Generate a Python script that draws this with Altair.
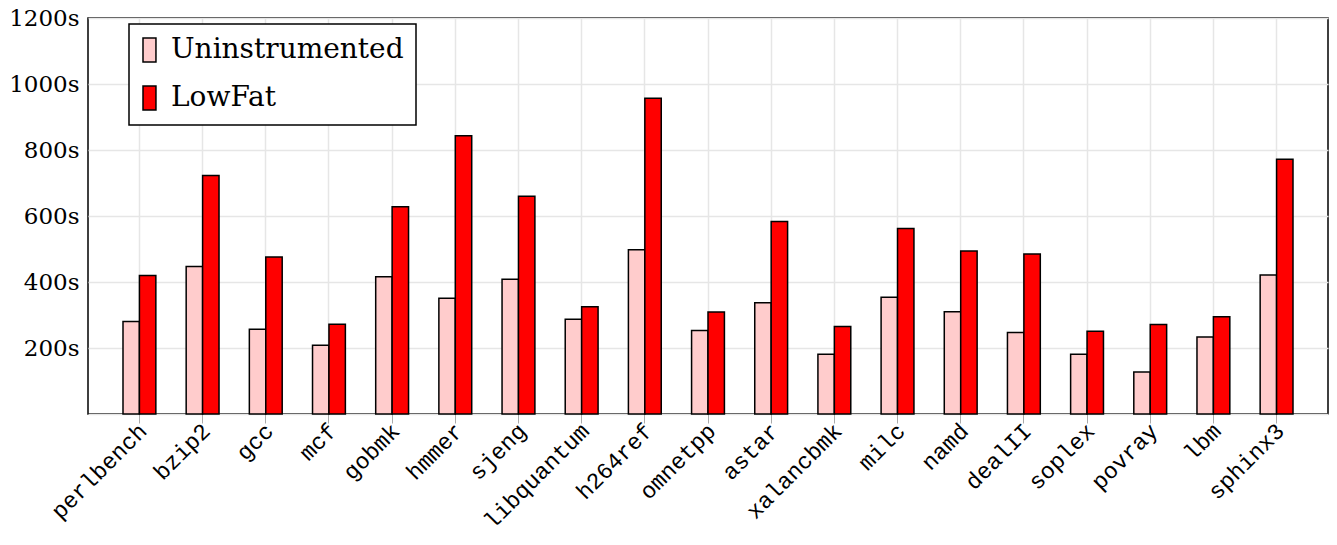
import altair as alt
import pandas as pd

benchmarks = ["perlbench", "bzip2", "gcc", "mcf", "gobmk", "hmmer", "sjeng",
              "libquantum", "h264ref", "omnetpp", "astar", "xalancbmk", "milc",
              "namd", "dealII", "soplex", "povray", "lbm", "sphinx3"]
uninstrumented = [280, 447, 257, 208, 416, 351, 408, 287, 498, 253, 337, 181,
                  354, 310, 247, 181, 127, 233, 421]
lowfat = [420, 723, 476, 272, 628, 843, 660, 325, 957, 309, 583, 265,
          562, 494, 485, 251, 271, 295, 772]
series_names = ["Uninstrumented", "LowFat"]
series_colors = ["#ffcccc", "#ff0000"]
y_ticks = [0, 200, 400, 600, 800, 1000, 1200]

rows = []
for b, u, l in zip(benchmarks, uninstrumented, lowfat):
    rows.append({"bench": b, "series": "Uninstrumented", "time": u})
    rows.append({"bench": b, "series": "LowFat", "time": l})
df = pd.DataFrame(rows)

bars = alt.Chart(df).mark_bar(stroke="black", strokeWidth=1.5).encode(
    x=alt.X("bench:N", sort=benchmarks, title=None,
            scale=alt.Scale(paddingInner=0.48, paddingOuter=0.554),
            axis=alt.Axis(labelAngle=-45, labelAlign="right", labelBaseline="middle",
                          labelFont="Liberation Mono", labelFontSize=23, labelColor="black",
                          labelPadding=4, labelOffset=4, bandPosition=0.5, grid=True,
                          gridColor="#e6e6e6", gridWidth=1.5,
                          tickColor="#aaaaaa", tickSize=9, tickWidth=1,
                          domain=False)),
    xOffset=alt.XOffset("series:N", sort=series_names,
                        scale=alt.Scale(paddingInner=0, paddingOuter=0)),
    y=alt.Y("time:Q", title=None,
            scale=alt.Scale(domain=[0, 1200], nice=False),
            axis=alt.Axis(values=y_ticks,
                          labelExpr="datum.value == 0 ? '' : datum.value + 's'",
                          labelFont="DejaVu Serif", labelFontSize=23, labelColor="black",
                          labelPadding=9, ticks=False, grid=True,
                          gridColor="#e6e6e6", gridWidth=1.5, domain=False)),
    color=alt.Color("series:N", sort=series_names,
                    scale=alt.Scale(domain=series_names, range=series_colors),
                    legend=alt.Legend(title=None, orient="none", legendX=41, legendY=6,
                                      symbolType="M-1,-1H0.08V1H-1Z",
                                      symbolSize=576, symbolStrokeColor="black",
                                      symbolStrokeWidth=1.5,
                                      labelFont="DejaVu Serif", labelFontSize=28,
                                      labelColor="black", labelOffset=2, labelLimit=0,
                                      rowPadding=18, padding=12,
                                      fillColor="white", strokeColor="black")),
).properties(width=1240, height=396)

chart = bars.properties(
    autosize=alt.AutoSizeParams(type="none"),
    padding={"left": 80, "top": 10, "right": 1, "bottom": 119},
).configure_view(stroke="black", strokeWidth=1.5).configure_legend(
    strokeWidth=1.5
)

chart.save("out.html", embed_options={"renderer": "svg", "actions": False})
